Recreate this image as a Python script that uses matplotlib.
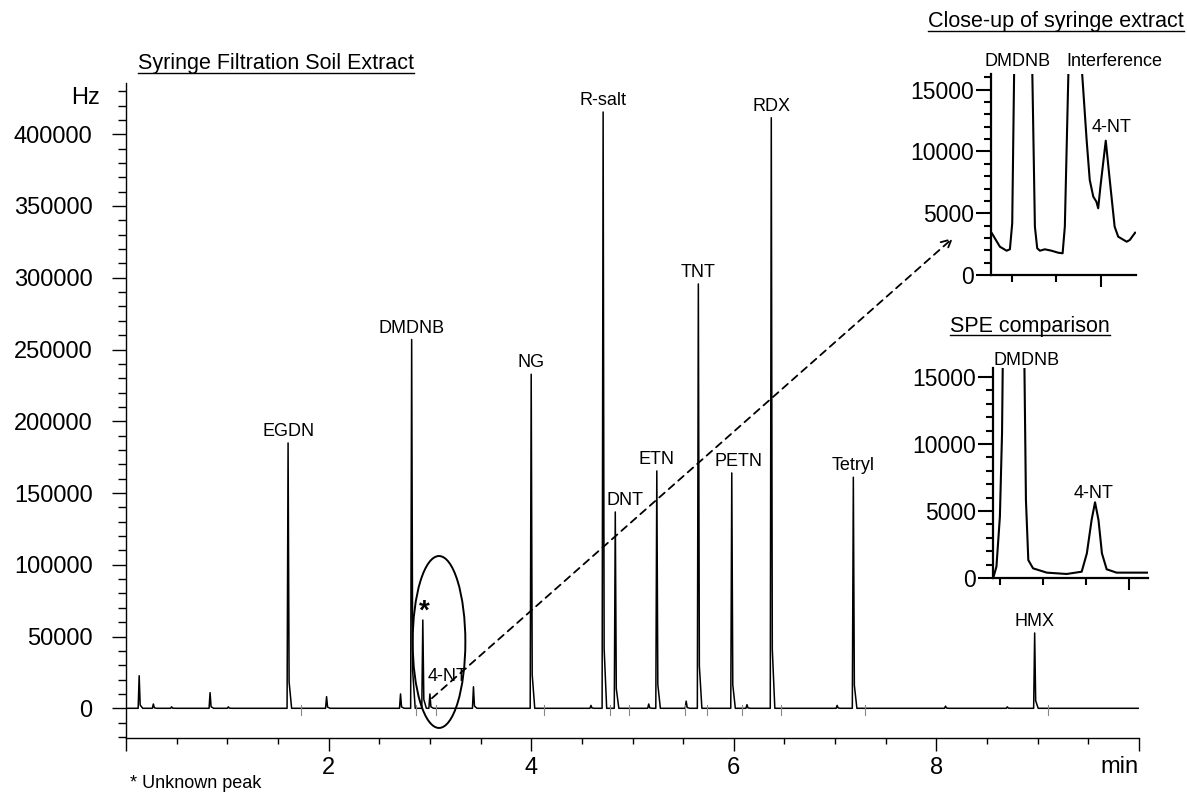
import matplotlib
matplotlib.use("Agg")
import matplotlib.pyplot as plt
from matplotlib.patches import Ellipse
from matplotlib.lines import Line2D
from matplotlib.ticker import MultipleLocator

plt.rcParams['font.family'] = ['Liberation Sans', 'DejaVu Sans']

# main chromatogram: retention time (min) and peak height (Hz)
peak_times = [0.13, 0.27, 0.45, 0.83, 1.01, 1.60, 1.98, 2.71, 2.82, 2.93, 3.00,
              3.43, 4.00, 4.59, 4.71, 4.83, 5.16, 5.24, 5.53, 5.65, 5.98, 6.13,
              6.37, 7.02, 7.18, 8.09, 8.70, 8.97]
peak_heights = [22700, 3000, 1000, 10900, 1000, 184900, 8100, 10000, 257000, 61500, 10000,
                15000, 232800, 2000, 415500, 136800, 3000, 165400, 5000, 295700, 164000, 2500,
                411500, 2000, 161000, 1500, 1000, 52500]

# named peaks
label_names = ['EGDN', 'DMDNB', 'NG', 'R-salt', 'DNT', 'ETN', 'TNT', 'PETN', 'RDX', 'Tetryl', 'HMX']
label_times = [1.60, 2.82, 4.00, 4.71, 4.83, 5.24, 5.65, 5.98, 6.37, 7.18, 8.97]
label_heights = [184900, 257000, 232800, 415500, 136800, 165400, 295700, 164000, 411500, 161000, 52500]

# integration marks at the baseline
mark_times = [1.73, 2.86, 3.06, 4.13, 4.78, 4.97, 5.52, 5.74, 6.08, 6.47, 7.30, 9.10]

# close-up of syringe extract
close_t = [2.755, 2.773, 2.788, 2.7955, 2.8007, 2.8052, 2.8456, 2.8517, 2.8569, 2.863,
           2.874, 2.889, 2.904, 2.914, 2.919, 2.9274, 2.9566, 2.968, 2.975, 2.983,
           2.990, 2.994, 2.999, 3.011, 3.020, 3.031, 3.039, 3.058, 3.065, 3.077]
close_y = [3375, 2290, 1967, 2080, 4185, 17000, 17000, 3910, 2161, 1967,
           2080, 1967, 1805, 1757, 3910, 17000, 17000, 10928, 7690, 6338,
           5933, 5399, 7148, 10871, 7690, 3910, 3100, 2695, 2833, 3424]

# SPE comparison
spe_t = [2.786, 2.792, 2.800, 2.805, 2.808, 2.8555, 2.8605, 2.866, 2.877, 2.909,
         2.955, 2.990, 3.002, 3.013, 3.021, 3.029, 3.037, 3.048, 3.071, 3.144]
spe_y = [170, 850, 4580, 10820, 20000, 20000, 5820, 1340, 720, 400,
         300, 470, 1840, 4330, 5650, 4330, 1840, 650, 400, 400]

W, H = 1187, 793
fig = plt.figure(figsize=(W / 100, H / 100), dpi=100)


def fx(px):
    return px / W


def fy(py):
    return 1 - py / H


def underline(txt, lw=1.0):
    fig.canvas.draw()
    bb = txt.get_window_extent()
    y = (bb.y0 + 2) / H
    fig.add_artist(Line2D([bb.x0 / W, bb.x1 / W], [y, y], color='black', lw=lw))


# ---- main chromatogram ----
ax = fig.add_axes([fx(126), fy(738), fx(1139) - fx(126), fy(83) - fy(738)])

xs, ys = [0.0], [0.0]
for t, h in zip(peak_times, peak_heights):
    xs += [t - 0.01, t, t + 0.01, t + 0.035]
    ys += [0, h, 0.1 * h, 0]
xs.append(10.0)
ys.append(0)
ax.plot(xs, ys, color='black', lw=1.1)

for t in mark_times:
    ax.plot([t, t], [-5000, 2000], color='#888888', lw=0.8)

label_dx = {'DNT': 0.1, 'PETN': 0.07}
for name, t, h in zip(label_names, label_times, label_heights):
    ax.annotate(name, (t + label_dx.get(name, 0), h), xytext=(0, 2), textcoords='offset points',
                ha='center', va='bottom', fontsize=13)

ax.text(2.94, 58000, '*', ha='center', va='bottom', fontsize=20, fontweight='bold')
ax.text(3.17, 22000, '4-NT', ha='center', va='center', fontsize=13)

ax.add_patch(Ellipse((3.09, 46200), 0.52, 119800, fill=False, color='black', lw=1.4))

ax.set_xlim(0, 10)
ax.set_ylim(-20700, 435700)
ax.set_xticks([0, 2, 4, 6, 8, 10])
ax.set_xticklabels(['', '2', '4', '6', '8', ''])
ax.xaxis.set_minor_locator(MultipleLocator(0.5))
ax.set_yticks(range(0, 400001, 50000))
ax.yaxis.set_minor_locator(MultipleLocator(10000))
ax.tick_params(axis='x', which='major', length=9.4, width=1, labelsize=17, pad=4)
ax.tick_params(axis='x', which='minor', length=4, width=1)
ax.tick_params(axis='y', which='major', length=10, width=1, labelsize=17, pad=14)
ax.tick_params(axis='y', which='minor', length=5.5, width=1)
for s in ['top', 'right']:
    ax.spines[s].set_visible(False)
for s in ['left', 'bottom']:
    ax.spines[s].set_linewidth(1)

ax.text(-0.026, 425000, 'Hz', transform=ax.get_yaxis_transform(), ha='right', va='center', fontsize=17)
ax.text(10, -41000, 'min', ha='right', va='center', fontsize=17)

t1 = fig.text(fx(138), fy(64), 'Syringe Filtration Soil Extract', ha='left', va='center', fontsize=15.5)
fig.text(fx(130), fy(784), '* Unknown peak', ha='left', va='center', fontsize=13)

# ---- close-up inset ----
ax1 = fig.add_axes([fx(991), fy(275), fx(1136) - fx(991), fy(74) - fy(275)])
ax1.plot(close_t, close_y, color='black', lw=1.5)
ax1.set_xlim(2.753, 3.079)
ax1.set_ylim(0, 16270)
ax1.set_xticks([3.0])
ax1.set_xticklabels([])
ax1.set_xticks([2.8, 2.9], minor=True)
ax1.set_yticks([0, 5000, 10000, 15000])
ax1.yaxis.set_minor_locator(MultipleLocator(1000))
ax1.tick_params(axis='y', which='major', length=11, width=1.5, labelsize=16.5, pad=1)
ax1.tick_params(axis='y', which='minor', length=5, width=1.5)
ax1.tick_params(axis='x', which='major', length=8.6, width=1.5)
ax1.tick_params(axis='x', which='minor', length=5, width=1.5)
for s in ['top', 'right']:
    ax1.spines[s].set_visible(False)
for s in ['left', 'bottom']:
    ax1.spines[s].set_linewidth(1.6)
fig.text(fx(1018), fy(61), 'DMDNB', ha='center', va='center', fontsize=13)
fig.text(fx(1114), fy(61), 'Interference', ha='center', va='center', fontsize=13)
fig.text(fx(1112), fy(128), '4-NT', ha='center', va='center', fontsize=13)
t2 = fig.text(fx(1056), fy(22), 'Close-up of syringe extract', ha='center', va='center', fontsize=15.5)

# ---- SPE inset ----
ax2 = fig.add_axes([fx(993), fy(578), fx(1148) - fx(993), fy(368) - fy(578)])
ax2.plot(spe_t, spe_y, color='black', lw=1.5)
ax2.set_xlim(2.784, 3.144)
ax2.set_ylim(0, 15670)
ax2.set_xticks([3.1])
ax2.set_xticklabels([])
ax2.set_xticks([2.8, 2.9, 3.0], minor=True)
ax2.set_yticks([0, 5000, 10000, 15000])
ax2.yaxis.set_minor_locator(MultipleLocator(1000))
ax2.tick_params(axis='y', which='major', length=11, width=1.5, labelsize=16.5, pad=1)
ax2.tick_params(axis='y', which='minor', length=5, width=1.5)
ax2.tick_params(axis='x', which='major', length=8.6, width=1.5)
ax2.tick_params(axis='x', which='minor', length=5, width=1.5)
for s in ['top', 'right']:
    ax2.spines[s].set_visible(False)
for s in ['left', 'bottom']:
    ax2.spines[s].set_linewidth(1.6)
fig.text(fx(1027), fy(361), 'DMDNB', ha='center', va='center', fontsize=13)
fig.text(fx(1094), fy(493), '4-NT', ha='center', va='center', fontsize=13)
t3 = fig.text(fx(1030), fy(326), 'SPE comparison', ha='center', va='center', fontsize=15.5)

# dashed arrow from the circled region to the close-up
ax.annotate('', xy=(fx(953), fy(238)), xycoords='figure fraction', xytext=(3.02, 7000), textcoords='data',
            arrowprops=dict(arrowstyle='->', linestyle=(0, (4, 3)), lw=1.3, color='black',
                            mutation_scale=18, shrinkA=0, shrinkB=0))

for t in (t1, t2, t3):
    underline(t)

fig.savefig('out.png', dpi=100)
